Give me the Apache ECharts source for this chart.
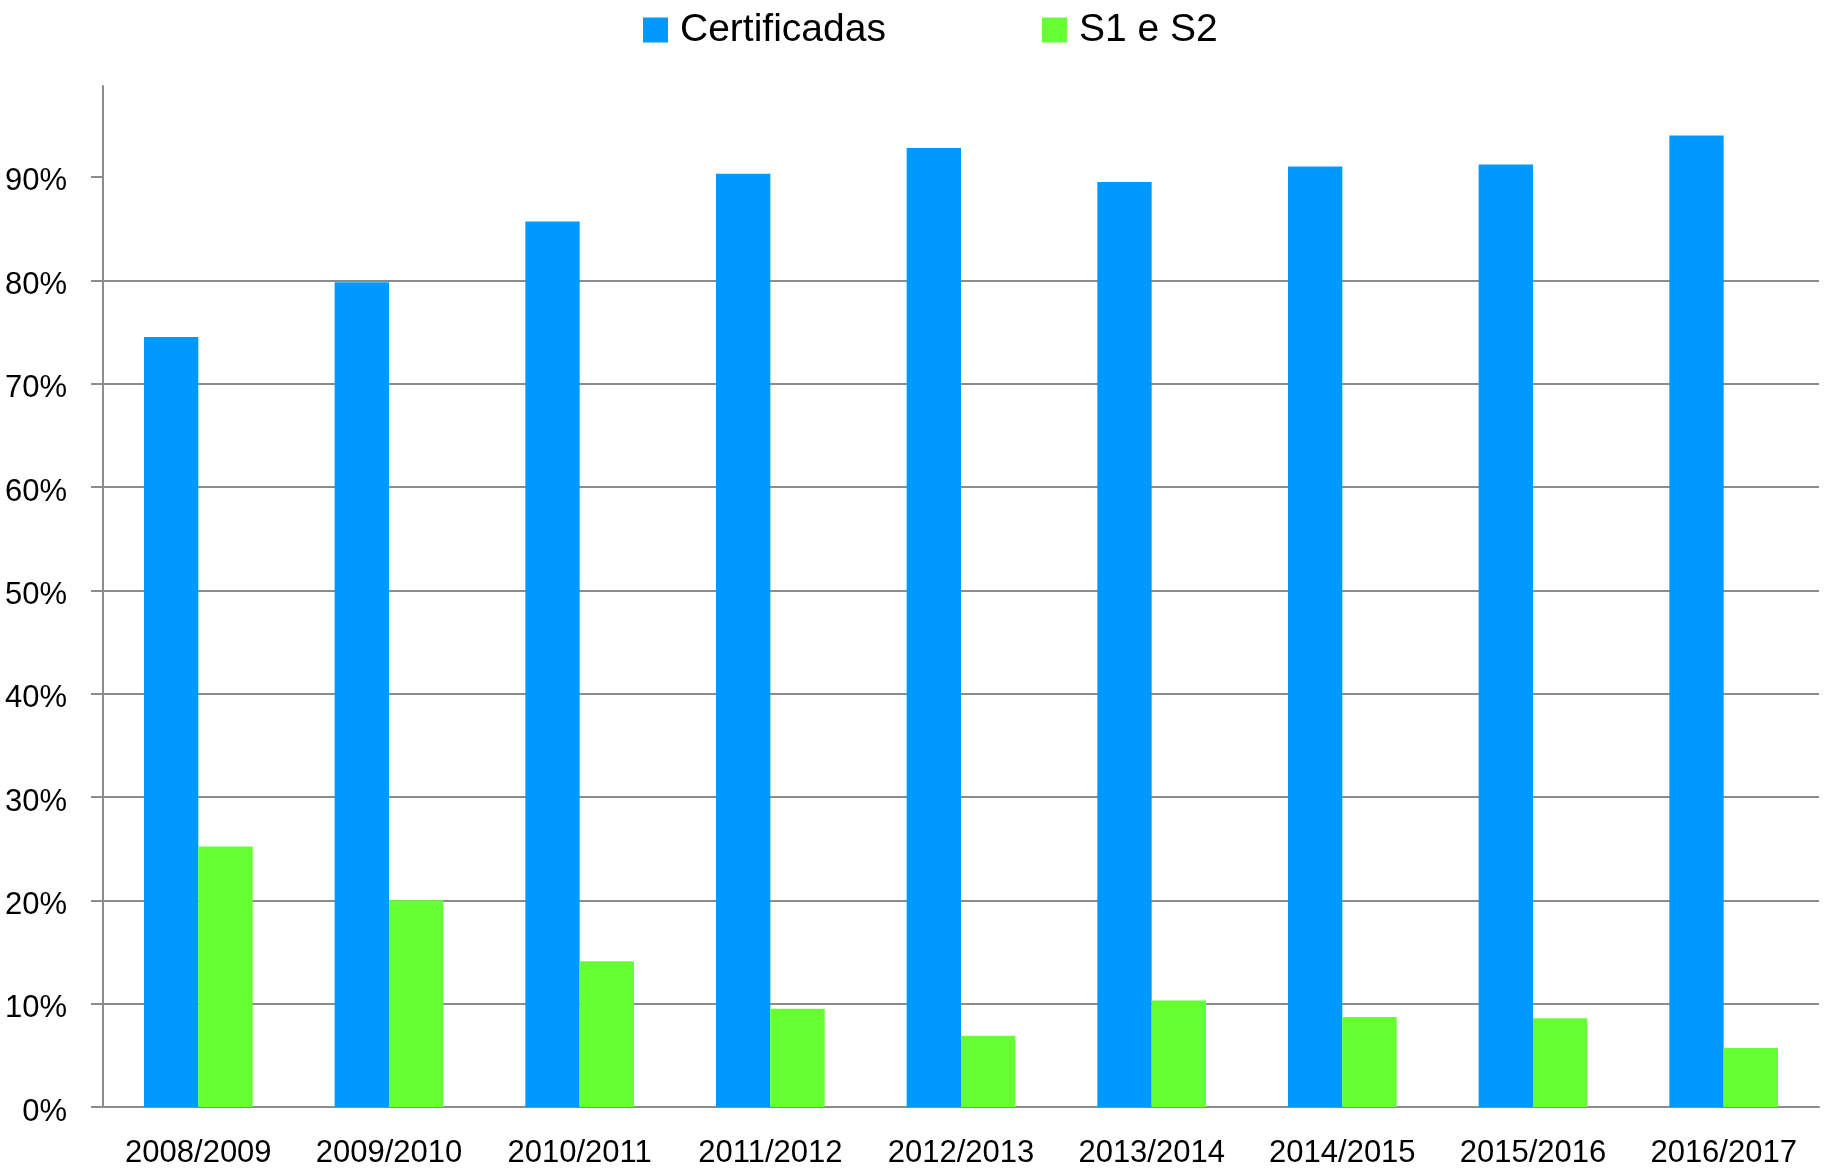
<!DOCTYPE html>
<html>
<head>
<meta charset="utf-8">
<script src="https://cdn.jsdelivr.net/npm/echarts@6/dist/echarts.min.js"></script>
<style>
  html, body { margin: 0; padding: 0; background: #fff; }
  #chart { width: 1831px; height: 1173px; }
</style>
</head>
<body>
<div id="chart"></div>
<script>
// dados
var anos = ['2008/2009', '2009/2010', '2010/2011', '2011/2012', '2012/2013',
            '2013/2014', '2014/2015', '2015/2016', '2016/2017'];
var certificadas = [74.5, 79.8, 85.7, 90.3, 92.8, 89.5, 91.0, 91.2, 94.0];
var s1eS2 = [25.2, 20.0, 14.1, 9.5, 6.9, 10.3, 8.7, 8.6, 5.7];
var yTicks = [0, 10, 20, 30, 40, 50, 60, 70, 80, 90];

var fonte = "'Liberation Sans Narrow', 'Arial Narrow', 'Liberation Sans', Arial, sans-serif";
var cinza = '#8c8c8c';

var chart = echarts.init(document.getElementById('chart'));
chart.setOption({
    animation: false,
    legend: {
        left: 638,
        top: 5,
        itemWidth: 25,
        itemHeight: 25,
        itemGap: 156,
        icon: 'rect',
        textStyle: { fontFamily: fonte, fontSize: 39, lineHeight: 40, color: '#000', padding: [0, 0, 0, 7] },
        data: ['Certificadas', 'S1 e S2']
    },
    grid: { left: 103, right: 12, top: 86, bottom: 66, containLabel: false, outerBoundsMode: 'none' },
    xAxis: {
        type: 'category',
        data: anos,
        axisLine: { lineStyle: { color: cinza, width: 2 } },
        axisTick: { length: 11, lineStyle: { color: cinza, width: 2 } },
        axisLabel: { fontFamily: fonte, fontSize: 31, color: '#000', margin: 31, interval: 0 }
    },
    yAxis: {
        type: 'value',
        min: 0,
        max: 98.8,
        interval: 10,
        axisLine: { show: true, lineStyle: { color: cinza, width: 2 } },
        axisTick: { show: true, length: 12, customValues: yTicks, lineStyle: { color: cinza, width: 2 } },
        axisLabel: {
            margin: 36,
            customValues: yTicks,
            formatter: function (v) { return '{p|' + v + '%}'; },
            rich: {
                p: { fontFamily: fonte, fontSize: 31, color: '#000', lineHeight: 31, padding: [10, 0, 0, 0] }
            }
        },
        splitLine: { showMaxLine: false, lineStyle: { color: cinza, width: 2 } }
    },
    series: [
        {
            name: 'Certificadas',
            type: 'bar',
            data: certificadas,
            barGap: 0,
            barCategoryGap: '43%',
            itemStyle: { color: '#0099ff' }
        },
        {
            name: 'S1 e S2',
            type: 'bar',
            data: s1eS2,
            barGap: 0,
            barCategoryGap: '43%',
            itemStyle: { color: '#66ff33' }
        }
    ]
});
</script>
</body>
</html>
